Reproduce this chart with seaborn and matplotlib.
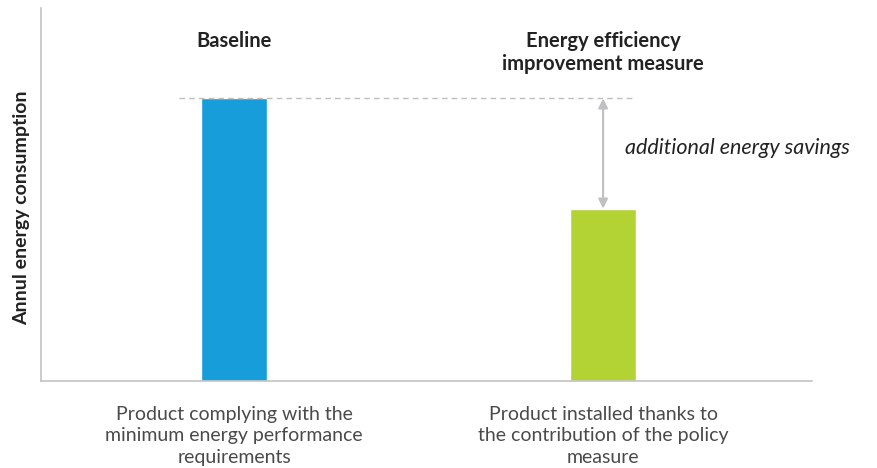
import matplotlib
matplotlib.use("Agg")
import matplotlib.pyplot as plt
import seaborn as sns
import pandas as pd

categories = [
    "Product complying with the\nminimum energy performance\nrequirements",
    "Product installed thanks to\nthe contribution of the policy\nmeasure",
]
headers = ["Baseline", "Energy efficiency\nimprovement measure"]
consumption = [100, 61]
colors = ["#179dd9", "#b3d334"]

sns.set_theme(style="white")
plt.rcParams["font.family"] = ["Lato", "DejaVu Sans"]

df = pd.DataFrame({"category": categories, "consumption": consumption})

fig = plt.figure(figsize=(8.77, 4.68), dpi=100)
ax = fig.add_axes([41 / 877, 1 - 381 / 468, 771 / 877, 373 / 468])

sns.barplot(data=df, x="category", y="consumption", hue="category",
            palette=colors, width=0.179, legend=False, ax=ax, saturation=1)

ax.set_xlim(-0.523, 1.566)
ax.set_ylim(0, 132)

# spines
for side in ["top", "right"]:
    ax.spines[side].set_visible(False)
for side in ["left", "bottom"]:
    ax.spines[side].set_color("#c4c4c4")
    ax.spines[side].set_linewidth(1.2)
ax.set_yticks([])
ax.tick_params(axis="x", length=0, pad=18)
ax.set_xticks([0, 1])
ax.set_xticklabels(categories, fontsize=14, fontweight="normal",
                   color="#4a4a4a", linespacing=1.32)
ax.set_xlabel("")
ax.set_ylabel("Annul energy consumption", fontsize=14, fontweight="bold",
              color="#222222")
ax.yaxis.set_label_coords(-0.0135, 0.465)

# baseline reference line
ax.plot([-0.15, 1.09], [consumption[0]] * 2, ls=(0, (4, 3)),
        color="#bdbdbd", lw=1)

# savings arrow
ax.annotate("", xy=(1, consumption[0]), xytext=(1, consumption[1]),
            arrowprops=dict(arrowstyle="<|-|>", color="#bfc0c4", lw=1.5,
                            mutation_scale=14, shrinkA=0, shrinkB=0))
ax.text(1.06, 82.4,
        "additional energy savings", fontsize=15.5, style="italic",
        color="#222222", va="center", ha="left")

# column headers
for i, h in enumerate(headers):
    ax.text(i, 123.8, h, ha="center", va="top", fontsize=14.5, fontweight="bold",
            color="#222222", linespacing=1.15)

fig.savefig("out.png", dpi=100)
